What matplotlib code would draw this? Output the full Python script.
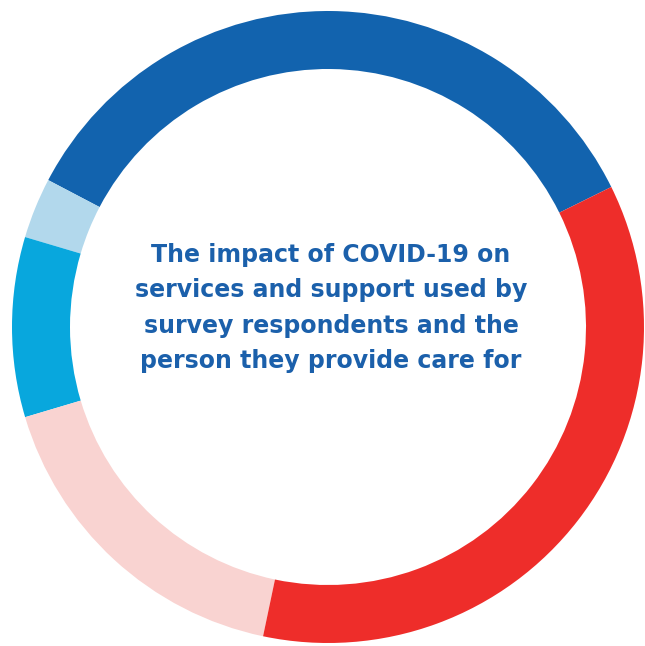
import matplotlib.pyplot as plt

# share of responses per segment, counter-clockwise from the red/blue join
segments = ['Dark blue', 'Light blue', 'Cyan', 'Pink', 'Red']
shares = [35.0, 3.1, 9.2, 17.1, 35.6]
colors = ['#1263ae', '#b2d8ec', '#08a7dd', '#f9d3d1', '#ee2d2a']
title_lines = ['The impact of COVID-19 on',
               'services and support used by',
               'survey respondents and the',
               'person they provide care for']

fig = plt.figure(figsize=(6.45, 6.46), dpi=100)
ax = fig.add_axes([0, 0, 1, 1])

ax.pie(shares, colors=colors, startangle=26.3, counterclock=True,
       radius=316, center=(328, 319),
       wedgeprops=dict(width=58, linewidth=0), frame=True)
ax.set_xlim(0, 645)
ax.set_ylim(0, 646)
ax.set_aspect('equal')
ax.axis('off')

ax.text(331, 646 - 308, '\n'.join(title_lines), ha='center', va='center',
        fontsize=17, fontweight='bold', family='DejaVu Sans', color='#1b60ab',
        linespacing=1.58)

fig.savefig('out.png', dpi=100)
